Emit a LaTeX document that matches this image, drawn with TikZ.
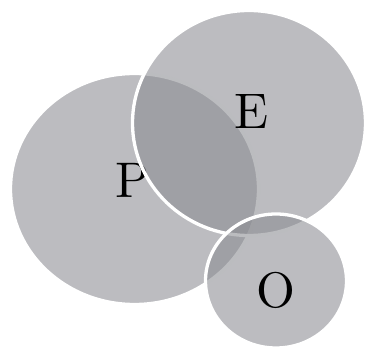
\documentclass[tikz,border=0pt]{standalone}
\begin{document}
\begin{tikzpicture}[x=1pt,y=-1pt,
  blob/.style={fill={rgb,255:red,139;green,140;blue,146}, fill opacity=0.58, draw=white, line width=3.3pt},
  lbl/.style={text=black, inner sep=0pt}]
\useasboundingbox (0,0) rectangle (368,347);
\path[blob] (134.5,189) ellipse [x radius=124, y radius=115.5];
\node[lbl] (p) at (133,180) {\scalebox{5}{P}};
\path[blob] (249,123) ellipse [x radius=116.5, y radius=112.5];
\node[lbl] (e) at (252,112) {\scalebox{5}{E}};
\path[blob] (276,281) ellipse [x radius=70.5, y radius=67];
\node[lbl] (o) at (276,290) {\scalebox{5}{O}};
\end{tikzpicture}
\end{document}
